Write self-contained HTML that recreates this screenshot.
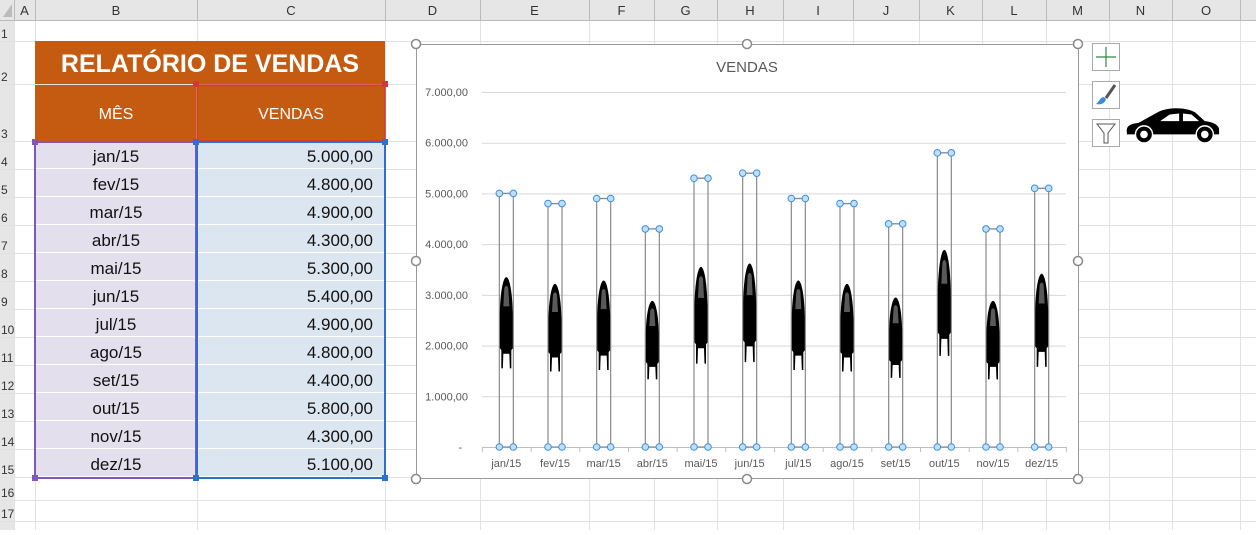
<!DOCTYPE html>
<html><head><meta charset="utf-8"><style>
body{margin:0;width:1256px;height:530px;overflow:hidden;background:#fff;font-family:"Liberation Sans",sans-serif;}
svg text{font-family:"Liberation Sans",sans-serif;}
</style></head><body>
<svg id="s" width="1256" height="530" xmlns="http://www.w3.org/2000/svg">
<g id="grid"></g>
<g id="tbl"></g>
<g id="chart"></g>
<g>
 <rect x="1092.5" y="43.5" width="27" height="27" fill="#fff" stroke="#aaa"/>
 <path d="M1106 47v20M1096 57h20" stroke="#2e8b3e" stroke-width="1.2"/>
 <rect x="1092.5" y="81.5" width="27" height="27" fill="#fff" stroke="#aaa"/>
 <path d="M1115 85l-9 13" stroke="#555" stroke-width="3"/>
 <path d="M1104 97c-4 0-5 5-8 7c4 1 9 0 10-5z" fill="#3a8fd8"/>
 <rect x="1092.5" y="119.5" width="27" height="27" fill="#fff" stroke="#aaa"/>
 <path d="M1097 124h18l-7 9v10h-4v-10z" fill="none" stroke="#555"/>
 <g transform="translate(1125,104) scale(0.95)">
  <path d="M2 30 C1 24 4 21 14 20 L34 9 C44 3 64 3 74 9 L84 18 C93 19 98 22 99 26 L99 32 L2 32 Z" fill="#000"/>
  <path d="M37 18 L47 11 L57 10 L57 18Z M61 10 L70 11 L78 18 L61 18Z" fill="#fff"/>
  <circle cx="20" cy="32" r="9" fill="#000" stroke="#fff" stroke-width="1.5"/>
  <circle cx="20" cy="32" r="4" fill="#fff"/>
  <circle cx="84" cy="32" r="9" fill="#000" stroke="#fff" stroke-width="1.5"/>
  <circle cx="84" cy="32" r="4" fill="#fff"/>
 </g>
</g>
</svg>
<script>
const months=["jan/15","fev/15","mar/15","abr/15","mai/15","jun/15","jul/15","ago/15","set/15","out/15","nov/15","dez/15"];
const sales=[5000,4800,4900,4300,5300,5400,4900,4800,4400,5800,4300,5100];
const salesText=["5.000,00","4.800,00","4.900,00","4.300,00","5.300,00","5.400,00","4.900,00","4.800,00","4.400,00","5.800,00","4.300,00","5.100,00"];
const yTicks=[0,1000,2000,3000,4000,5000,6000,7000];
const yTickLabels=["-","1.000,00","2.000,00","3.000,00","4.000,00","5.000,00","6.000,00","7.000,00"];
const NS="http://www.w3.org/2000/svg";
function mk(p,tag,a,txt){const e=document.createElementNS(NS,tag);for(const k in a)e.setAttribute(k,a[k]);if(txt!=null)e.textContent=txt;p.appendChild(e);return e;}
const g=document.getElementById('grid');
const colX=[0,14,35,197,385,480,589,654,717,783,853,919,982,1046,1109,1172,1240,1256];
const colL=["A","B","C","D","E","F","G","H","I","J","K","L","M","N","O"];
const rowY=[20,41,84,141,169,197,225,253,281,309,337,365,393,421,449,477,500,521];
mk(g,'rect',{x:0,y:0,width:1256,height:20,fill:'#e6e6e6'});
mk(g,'rect',{x:0,y:0,width:14,height:530,fill:'#e6e6e6'});
for(let i=1;i<colX.length-1;i++){mk(g,'line',{x1:colX[i]+.5,y1:0,x2:colX[i]+.5,y2:20,stroke:'#bbb'});mk(g,'line',{x1:colX[i]+.5,y1:20,x2:colX[i]+.5,y2:530,stroke:'#e1e1e1'});}
for(let i=0;i<colL.length;i++){const t=mk(g,'text',{x:(colX[i+1]+colX[i+2])/2,y:15,'font-size':13,'text-anchor':'middle',fill:'#333'},colL[i]);}
mk(g,'line',{x1:0,y1:20.5,x2:1256,y2:20.5,stroke:'#bbb'});
for(let i=0;i<rowY.length-1;i++){mk(g,'line',{x1:0,y1:rowY[i+1]+.5,x2:1256,y2:rowY[i+1]+.5,stroke:'#e1e1e1'});const t=mk(g,'text',{x:1,y:rowY[i+1]-3,'font-size':12,fill:'#333'},String(i+1));}
mk(g,'path',{d:'M3 17l9-13v13z',fill:'#bbb'});
const tb=document.getElementById('tbl');
mk(tb,'rect',{x:35,y:41,width:350,height:43,fill:'#c55a11'});
let t=mk(tb,'text',{x:210,y:72,'font-size':25,'font-weight':'bold','text-anchor':'middle',fill:'#fff'},'RELATÓRIO DE VENDAS');

mk(tb,'rect',{x:35,y:85,width:161,height:56,fill:'#c55a11'});
mk(tb,'rect',{x:197,y:85,width:188,height:56,fill:'#c55a11'});
t=mk(tb,'text',{x:116,y:119,'font-size':16,'text-anchor':'middle',fill:'#fff'},'MÊS');
t=mk(tb,'text',{x:291,y:119,'font-size':16,'text-anchor':'middle',fill:'#fff'},'VENDAS');
for(let i=0;i<12;i++){const y=141+i*28;
 mk(tb,'rect',{x:35,y:y,width:161,height:27,fill:'#e4dfec'});
 mk(tb,'rect',{x:197,y:y,width:188,height:27,fill:'#dce6f1'});
 t=mk(tb,'text',{x:116,y:y+21,'font-size':17,'text-anchor':'middle',fill:'#111'},months[i]);
 t=mk(tb,'text',{x:373,y:y+21,'font-size':17,'text-anchor':'end',fill:'#111'},salesText[i]);}
mk(tb,'rect',{x:197,y:85,width:188,height:56,fill:'none',stroke:'#d0383a','stroke-width':1.5});
mk(tb,'rect',{x:35,y:142,width:161,height:336,fill:'none',stroke:'#7f58b8','stroke-width':2});
mk(tb,'rect',{x:197,y:142,width:188,height:336,fill:'none',stroke:'#2f6fcf','stroke-width':2});
[[196,84,'#d0383a'],[385,84,'#d0383a'],[35,142,'#7f58b8'],[196,142,'#2f6fcf'],[385,142,'#2f6fcf'],[35,478,'#7f58b8'],[196,478,'#2f6fcf'],[385,478,'#2f6fcf']].forEach(h=>mk(tb,'rect',{x:h[0]-3,y:h[1]-3,width:6,height:6,fill:h[2]}));
const c=document.getElementById('chart');
mk(c,'rect',{x:416.5,y:44.5,width:662,height:434,fill:'#fff',stroke:'#999'});
t=mk(c,'text',{x:747,y:72,'font-size':15,'text-anchor':'middle',fill:'#595959'},'VENDAS');
const x0=482,x1=1066,yb=447,yt=92,ymax=7000;
const Y=v=>yb-(v/ymax)*(yb-yt);
const step=(x1-x0)/months.length;
const X=i=>x0+step*(i+0.5);
yTicks.forEach((v,i)=>{
 const l=mk(c,'line',{x1:x0,x2:x1,y1:Y(v)+.5,y2:Y(v)+.5,stroke:v?'#d9d9d9':'#bfbfbf'});
 
 const tt=mk(c,'text',{x:v?468:462,y:Y(v)+4,'font-size':11,'text-anchor':'end',fill:'#595959'},yTickLabels[i]);
 });
months.forEach((m,i)=>{
 mk(c,'line',{x1:x0+step*i+.5,x2:x0+step*i+.5,y1:yb,y2:yb+5,stroke:'#bfbfbf'});
 const tt=mk(c,'text',{x:X(i),y:467,'font-size':11,'text-anchor':'middle',fill:'#595959'},m);
 });
mk(c,'line',{x1:x1+.5,x2:x1+.5,y1:yb,y2:yb+5,stroke:'#bfbfbf'});
sales.forEach((v,i)=>{
 const cx=X(i),w=14,l=cx-w/2,r=cx+w/2,top=Y(v),h=yb-top;
 const bar=mk(c,'g',{});
 
 
 mk(bar,'rect',{x:l,y:top,width:w,height:h,fill:'none',stroke:'#8a8a8a','stroke-width':1.2});
 const ct=yb-h*0.67,cb=yb-h*0.31,ch=cb-ct;
 mk(bar,'path',{d:`M${l+0.5} ${ct+ch*0.4} C${l+1} ${ct+ch*0.15} ${cx-3} ${ct} ${cx} ${ct} C${cx+3} ${ct} ${r-1} ${ct+ch*0.15} ${r-0.5} ${ct+ch*0.4} L${r-0.5} ${ct+ch*0.78} L${r-2} ${ct+ch*0.8} L${r-2} ${cb} L${r-3.5} ${cb} L${r-4} ${ct+ch*0.84} L${l+4} ${ct+ch*0.84} L${l+3.5} ${cb} L${l+2} ${cb} L${l+2} ${ct+ch*0.8} L${l+0.5} ${ct+ch*0.78}Z`,fill:'#000'});
 mk(bar,'path',{d:`M${cx-2} ${ct+ch*0.12} Q${cx} ${ct+ch*0.07} ${cx+2} ${ct+ch*0.12} L${cx+3} ${ct+ch*0.32} L${cx-3} ${ct+ch*0.32}Z`,fill:'#fff','fill-opacity':0.35});
 mk(bar,'line',{x1:l,x2:r,y1:top,y2:top,stroke:'#8a8a8a','stroke-width':1.2});
 [[l,top],[r,top],[l,yb],[r,yb]].forEach(p=>mk(bar,'circle',{cx:p[0],cy:p[1],r:3.3,fill:'#bfe0fb',stroke:'#3b8ee0','stroke-width':1}));
});
[[416,44],[747,44],[1078,44],[416,261],[1078,261],[416,479],[747,479],[1078,479]].forEach(p=>{const h=mk(c,'circle',{cx:p[0],cy:p[1],r:4.5,fill:'#fff',stroke:'#8a8a8a','stroke-width':1.5});});
</script>
</body></html>
